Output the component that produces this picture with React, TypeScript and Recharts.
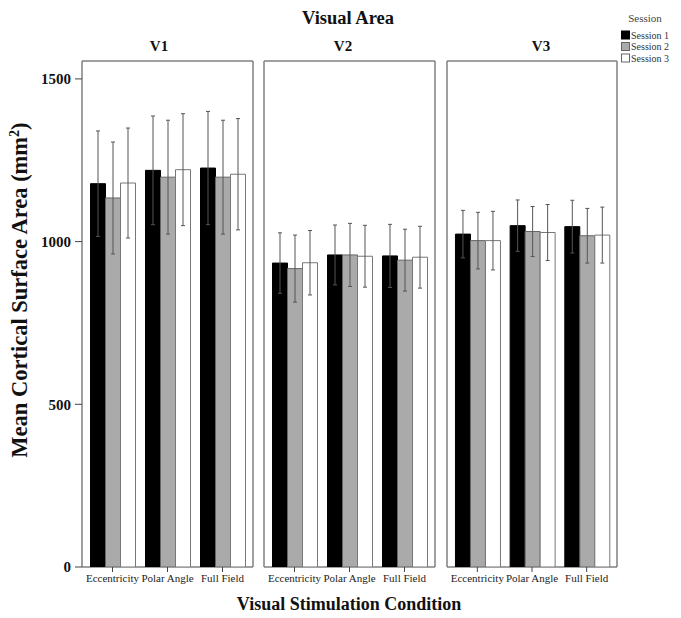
import React from 'react';
import { BarChart, Bar, XAxis, YAxis, ErrorBar, CartesianGrid } from 'recharts';

const conditions = ['Eccentricity', 'Polar Angle', 'Full Field'];
const sessions = ['Session 1', 'Session 2', 'Session 3'];
const areas = ['V1', 'V2', 'V3'];
const yTicks = [0, 500, 1000, 1500];
const yMax = 1555;

const v1Session1 = [1178, 1219, 1226];
const v1Session1Err = [162, 167, 174];
const v1Session2 = [1134, 1198, 1198];
const v1Session2Err = [172, 175, 175];
const v1Session3 = [1180, 1221, 1207];
const v1Session3Err = [169, 172, 171];

const v2Session1 = [934, 959, 956];
const v2Session1Err = [93, 92, 97];
const v2Session2 = [917, 959, 943];
const v2Session2Err = [103, 97, 95];
const v2Session3 = [935, 955, 952];
const v2Session3Err = [99, 95, 95];

const v3Session1 = [1023, 1049, 1046];
const v3Session1Err = [73, 79, 81];
const v3Session2 = [1003, 1031, 1018];
const v3Session2Err = [87, 77, 84];
const v3Session3 = [1003, 1028, 1020];
const v3Session3Err = [90, 86, 86];

const build = (s1: number[], e1: number[], s2: number[], e2: number[], s3: number[], e3: number[]) =>
  conditions.map((c, i) => ({ cond: c, s1: s1[i], e1: e1[i], s2: s2[i], e2: e2[i], s3: s3[i], e3: e3[i] }));

const panelData = [
  build(v1Session1, v1Session1Err, v1Session2, v1Session2Err, v1Session3, v1Session3Err),
  build(v2Session1, v2Session1Err, v2Session2, v2Session2Err, v2Session3, v2Session3Err),
  build(v3Session1, v3Session1Err, v3Session2, v3Session2Err, v3Session3, v3Session3Err),
];

const SERIF = '"Liberation Serif", "DejaVu Serif", serif';
const FRAME = '#808080';
const fills = ['#000000', '#aaaaaa', '#ffffff'];
const strokes = ['#000000', '#666666', '#777777'];

const panelLayout = [
  { left: 0, width: 260, margin: { top: 61, right: 7, bottom: 0, left: 0 }, yWidth: 82, showY: true },
  { left: 255, width: 185, margin: { top: 61, right: 5, bottom: 0, left: 9 }, yWidth: 0, showY: false },
  { left: 440, width: 185, margin: { top: 61, right: 8, bottom: 0, left: 7 }, yWidth: 0, showY: false },
];

const frameX = ({ offset }: any) => [offset.left, offset.left + offset.width];
const frameY = ({ offset }: any) => [offset.top, offset.top + offset.height];

function Panel({ idx }: { idx: number }) {
  const L = panelLayout[idx];
  const data = panelData[idx];
  return (
    <div style={{ position: 'absolute', left: L.left, top: 0 }}>
      <BarChart
        width={L.width}
        height={618}
        data={data}
        margin={L.margin}
        barCategoryGap="10%"
        barGap={0}
      >
        <CartesianGrid
          stroke={FRAME}
          strokeWidth={1.5}
          verticalCoordinatesGenerator={frameX}
          horizontalCoordinatesGenerator={frameY}
        />
        <XAxis
          dataKey="cond"
          height={51}
          interval={0}
          padding={{ left: 3, right: 3 }}
          axisLine={false}
          tickLine={{ stroke: '#444' }}
          tickSize={5}
          tick={{ fontFamily: SERIF, fontSize: 11, fill: '#222' }}
        />
        <YAxis
          domain={[0, yMax]}
          ticks={yTicks}
          width={L.yWidth}
          axisLine={false}
          tickLine={L.showY ? { stroke: '#444' } : false}
          tickSize={7}
          tickMargin={4}
          tick={L.showY ? { fontFamily: SERIF, fontSize: 15, fontWeight: 'bold', fill: '#111' } : false}
          allowDataOverflow
        />
        {['s1', 's2', 's3'].map((k, i) => (
          <Bar key={k} dataKey={k} fill={fills[i]} stroke={strokes[i]} strokeWidth={1} isAnimationActive={false}>
            <ErrorBar dataKey={'e' + (i + 1)} stroke="#555" strokeWidth={1} width={2} isAnimationActive={false} />
          </Bar>
        ))}
      </BarChart>
    </div>
  );
}

export default function App() {
  const areaX = [159, 343, 541];
  return (
    <div style={{ position: 'absolute', left: 0, top: 0, width: 681, height: 618, background: '#fff', fontFamily: SERIF }}>
      <Panel idx={0} />
      <Panel idx={1} />
      <Panel idx={2} />
      <svg width={681} height={618} style={{ position: 'absolute', left: 0, top: 0, pointerEvents: 'none' }}>
        <text x={348} y={24} textAnchor="middle" fontFamily={SERIF} fontWeight="bold" fontSize={18.5} fill="#111">Visual Area</text>
        {areas.map((a, i) => (
          <text key={a} x={areaX[i]} y={51} textAnchor="middle" fontFamily={SERIF} fontWeight="bold" fontSize={15} fill="#111">{a}</text>
        ))}
        <text x={645} y={22} textAnchor="middle" fontFamily={SERIF} fontSize={11} fill="#444">Session</text>
        {sessions.map((s, i) => (
          <g key={s}>
            <rect x={621.5} y={31 + i * 11.5} width={8} height={8} fill={fills[i]} stroke={i === 0 ? '#000' : '#666'} strokeWidth={1} />
            <text x={631} y={38.5 + i * 11.5} fontFamily={SERIF} fontSize={10} fill="#333">{s}</text>
          </g>
        ))}
        <text x={0} y={0} transform="translate(27,290) rotate(-90)" textAnchor="middle" fontFamily={SERIF} fontWeight="bold" fontSize={22.5} fill="#111">
          Mean Cortical Surface Area (mm<tspan dy={-8} fontSize={14}>2</tspan><tspan dy={8}>)</tspan>
        </text>
        <text x={349} y={610} textAnchor="middle" fontFamily={SERIF} fontWeight="bold" fontSize={18} fill="#111">Visual Stimulation Condition</text>
      </svg>
    </div>
  );
}
